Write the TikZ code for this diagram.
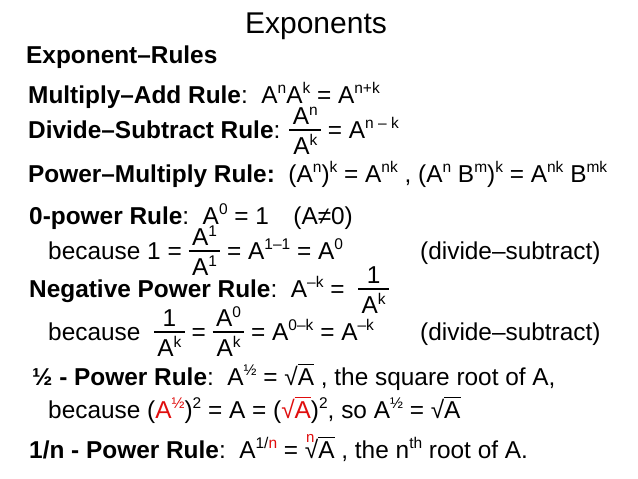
\documentclass[tikz,border=0pt]{standalone}
\usepackage{fontspec}
\setmainfont{Liberation Sans}
\usepackage{xcolor}
\definecolor{rootred}{rgb}{0.88,0.05,0.05}
\newcommand{\spx}[1]{\raisebox{0.37em}{\fontsize{15.5}{15.5}\selectfont #1}}
\newlength{\frw}
\newcommand{\fr}[2]{\begingroup\setbox0\hbox{\kern0.14em#1\kern0.14em}\setbox2\hbox{\kern0.14em#2\kern0.14em}%
  \ifdim\wd0>\wd2 \setlength{\frw}{\wd0}\else\setlength{\frw}{\wd2}\fi
  \rlap{\raisebox{0.55em}{\hbox to\frw{\hss\copy0\hss}}}\rlap{\raisebox{-0.66em}{\hbox to\frw{\hss\copy2\hss}}}\rule[0.29em]{\frw}{0.06em}\endgroup}
\newcommand{\sqa}[1][black]{\textcolor{#1}{√\rlap{\rule[0.8em]{0.68em}{0.05em}}A}}
\newcommand{\nra}{\rlap{\raisebox{0.62em}{\kern0.05em\textcolor{rootred}{\fontsize{15}{15}\selectfont n}}}\sqa}

\begin{document}
\begin{tikzpicture}[x=1pt,y=-1pt]
				\tikzstyle{line} = [anchor=base west,inner sep=0pt,font=\fontsize{24.4}{28}\selectfont]
				\tikzstyle{head} = [anchor=base,inner sep=0pt,font=\fontsize{30}{36}\selectfont]
				\useasboundingbox[fill=white] (0,0) rectangle (638,479);
				\node[head] (title) at (316,33) {Exponents};
				\node[line] (r0) at (26,63) {\bfseries Exponent–Rules};
				\node[line] (r1) at (28,103) {\textbf{Multiply–Add Rule}:\ \ A\spx{n}A\spx{k} = A\spx{n+k}};
				\node[line] (r2) at (28,138) {\textbf{Divide–Subtract Rule}: \fr{A\spx{n}}{A\spx{k}} = A\spx{n – k}};
				\node[line] (r3) at (28,182) {\textbf{Power–Multiply Rule:}\ \ (A\spx{n})\spx{k} = A\spx{nk} , (A\spx{n} B\spx{m})\spx{k} = A\spx{nk} B\spx{mk}};
				\node[line] (r4) at (29,224) {\textbf{0-power Rule}:\ \ A\spx{0} = 1\quad (A≠0)};
				\node[line] (r5) at (48,259) {because 1 = \fr{A\spx{1}}{A\spx{1}} = A\spx{1–1} = A\spx{0}};
				\node[line] (d1) at (420,259) {(divide–subtract)};
				\node[line] (r6) at (29,297) {\textbf{Negative Power Rule}:\ \ A\spx{–k} = \ \fr{1}{A\spx{k}}};
				\node[line] (r7) at (48,340) {because\ \ \fr{1}{A\spx{k}} = \fr{A\spx{0}}{A\spx{k}} = A\spx{0–k} = A\spx{–k}};
				\node[line] (d2) at (420,340) {(divide–subtract)};
				\node[line] (r8) at (32,385) {\textbf{½ - Power Rule}:\ \ A\spx{½} = \sqa\ , the square root of A,};
				\node[line] (r9) at (48,418) {because (\textcolor{rootred}{A\spx{½}})\spx{2} = A = (\sqa[rootred])\spx{2}, so A\spx{½} = \sqa};
				\node[line] (r10) at (29,458) {\textbf{1/n - Power Rule}:\ \ A\spx{1/\textcolor{rootred}{n}} = \nra\ , the n\spx{th} root of A.};
				\end{tikzpicture}
\end{document}
